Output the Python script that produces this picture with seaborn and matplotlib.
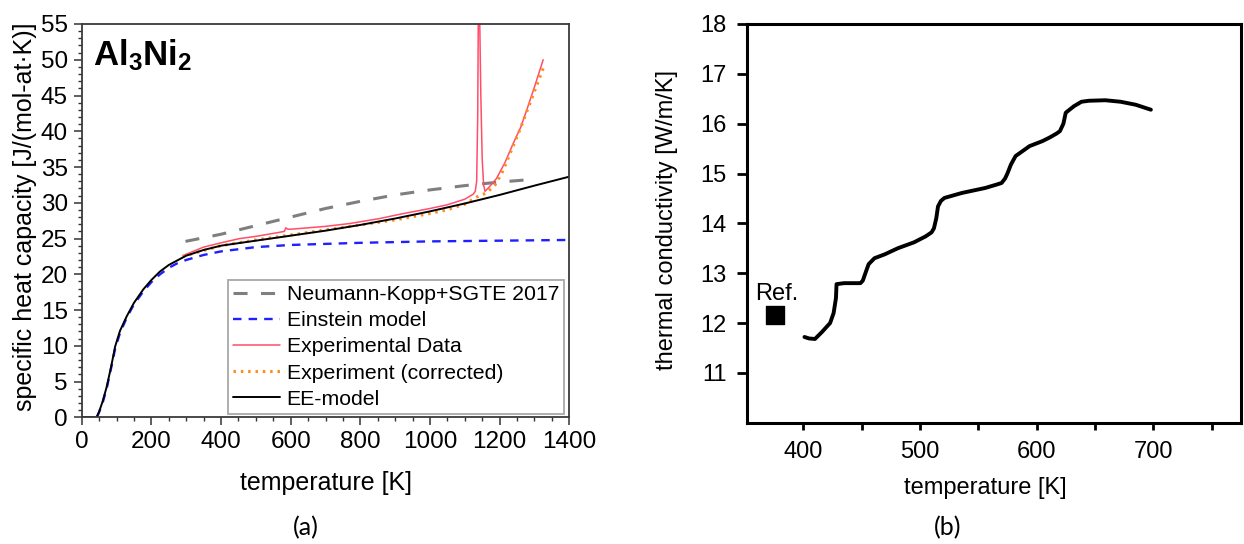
import numpy as np
import pandas as pd
import matplotlib
matplotlib.use("Agg")
import matplotlib.pyplot as plt
from matplotlib.ticker import MultipleLocator
import seaborn as sns

# ---- (a) specific heat capacity of Al3Ni2 ----
T_ee = [0, 43, 50, 60, 72, 85, 96, 110, 129, 150, 177, 200, 225, 250, 273, 300,
        350, 400, 500, 600, 700, 800, 900, 1000, 1100, 1200, 1300, 1400]
cp_ee = [0, 0, 0.8, 2.2, 4.3, 7.2, 9.9, 12.1, 14.1, 16.0, 17.9, 19.2, 20.4, 21.3, 21.9, 22.6,
         23.4, 24.0, 24.7, 25.4, 26.1, 26.9, 27.8, 28.8, 29.9, 31.1, 32.4, 33.65]

T_ein = [0, 43, 50, 60, 72, 85, 96, 110, 129, 150, 177, 200, 225, 250, 273, 300,
         350, 400, 500, 600, 800, 1000, 1200, 1400]
cp_ein = [0, 0, 0.7, 2.0, 4.1, 7.0, 9.6, 11.8, 13.9, 15.8, 17.6, 18.9, 20.0, 20.9, 21.5, 22.0,
          22.7, 23.2, 23.8, 24.1, 24.4, 24.6, 24.7, 24.8]

T_nk = [298, 400, 500, 600, 700, 800, 900, 1000, 1100, 1200, 1290]
cp_nk = [24.6, 25.6, 26.8, 28.0, 29.2, 30.2, 31.1, 31.8, 32.4, 32.9, 33.25]

T_exp = [290, 350, 400, 454, 500, 560, 582, 586, 592, 600, 700, 770, 856, 914, 1000, 1048,
         1100, 1124, 1130, 1134, 1137, 1139, 1142, 1146, 1150, 1154, 1158, 1170, 1191, 1215,
         1239, 1260, 1278, 1300, 1325]
cp_exp = [22.6, 23.8, 24.4, 25.0, 25.3, 25.8, 26.0, 26.5, 26.3, 26.3, 26.7, 27.1, 27.8, 28.4, 29.2, 29.7,
          30.5, 31.2, 31.6, 33.0, 42.0, 58.0, 58.0, 45.0, 36.0, 32.5, 31.6, 32.2, 33.4, 35.6,
          38.3, 40.5, 43.0, 46.2, 50.0]

T_cor = [290, 400, 500, 600, 700, 800, 900, 1000, 1048, 1100, 1134, 1163, 1187, 1206,
         1230, 1258, 1287, 1325]
cp_cor = [22.5, 24.0, 24.8, 25.5, 26.2, 26.9, 27.6, 28.5, 29.0, 29.8, 30.8, 31.4, 32.5, 34.1,
          36.9, 40.2, 43.9, 48.8]

labels_a = ["Neumann-Kopp+SGTE 2017", "Einstein model", "Experimental Data",
            "Experiment (corrected)", "EE-model"]

# ---- (b) thermal conductivity ----
T_k = [401, 405, 410, 416, 423, 426, 428, 428.5, 435, 449, 451, 454, 456, 461, 470, 481,
       495, 505, 510, 512, 514, 515.5, 518, 521, 536, 556, 566, 570, 573, 575, 578, 582,
       594, 605, 611, 617, 620, 623, 625, 632, 638.5, 645, 659, 672, 685, 698]
k_val = [11.72, 11.69, 11.68, 11.82, 12.00, 12.20, 12.50, 12.78, 12.80, 12.80, 12.85, 13.05,
         13.18, 13.30, 13.38, 13.50, 13.62, 13.74, 13.82, 13.90, 14.10, 14.34, 14.45, 14.51,
         14.61, 14.71, 14.78, 14.81, 14.90, 15.00, 15.18, 15.35, 15.55, 15.65, 15.72, 15.80,
         15.85, 16.00, 16.22, 16.35, 16.44, 16.46, 16.47, 16.44, 16.38, 16.28]
T_ref = [376]
k_ref = [12.16]

sns.set_theme(style="white")
plt.rcParams["font.family"] = ["Liberation Sans", "DejaVu Sans"]
plt.rcParams["mathtext.fontset"] = "custom"
plt.rcParams["mathtext.bf"] = "Liberation Sans:bold"
plt.rcParams["mathtext.rm"] = "Liberation Sans"
for key in ["text.color", "axes.labelcolor", "xtick.color", "ytick.color"]:
    plt.rcParams[key] = "black"

W, H = 1244, 544
fig = plt.figure(figsize=(W / 100, H / 100), dpi=100)
fig.patch.set_facecolor("white")


def px_axes(x0, x1, ytop, ybot):
    return fig.add_axes([x0 / W, 1 - ybot / H, (x1 - x0) / W, (ybot - ytop) / H])


axA = px_axes(81.7, 569.3, 24, 417.3)
axB = px_axes(747.3, 1240.7, 24, 422.7)

FS_TICK = 17.5
FS_LAB = 18
FS_LEG = 15.3
FS_B = 17

# panel (a)
sns.lineplot(x=T_nk, y=cp_nk, ax=axA, color="#7f7f7f", lw=2.2, label=labels_a[0],
             estimator=None, sort=False)
axA.lines[-1].set_dashes([4.6, 4.4])
sns.lineplot(x=T_ein, y=cp_ein, ax=axA, color="#1f1fff", lw=1.7, label=labels_a[1],
             estimator=None, sort=False)
axA.lines[-1].set_dashes([3.6, 3.0])
sns.lineplot(x=T_exp, y=cp_exp, ax=axA, color="#ff4d6a", lw=1.1, label=labels_a[2],
             estimator=None, sort=False)
sns.lineplot(x=T_cor, y=cp_cor, ax=axA, color="#ff8c1a", lw=2.2, label=labels_a[3],
             estimator=None, sort=False)
axA.lines[-1].set_dashes([0.8, 1.6])
sns.lineplot(x=T_ee, y=cp_ee, ax=axA, color="black", lw=1.4, label=labels_a[4],
             estimator=None, sort=False)

axA.set_xlim(0, 1400)
axA.set_ylim(0, 55)
axA.xaxis.set_major_locator(MultipleLocator(200))
axA.xaxis.set_minor_locator(MultipleLocator(50))
axA.yaxis.set_major_locator(MultipleLocator(5))
axA.yaxis.set_minor_locator(MultipleLocator(1))
axA.tick_params(axis="both", which="major", direction="out", length=6, width=1.1,
                color="#333333", labelsize=FS_TICK, pad=4, bottom=True, left=True)
axA.tick_params(axis="both", which="minor", direction="out", length=3.2, width=1.0,
                color="#333333", bottom=True, left=True)
for s in axA.spines.values():
    s.set_color("#3a3a3a")
    s.set_linewidth(1.3)
axA.set_xlabel("temperature [K]", fontsize=FS_LAB, va="center")
axA.set_ylabel("specific heat capacity [J/(mol-at·K)]", fontsize=FS_LAB, va="center")
axA.xaxis.set_label_coords(0.501, -0.167)
axA.yaxis.set_label_coords(-0.116, 0.509)
axA.text(0.023, 0.965, r"$\mathbf{Al_3Ni_2}$", transform=axA.transAxes, fontsize=25,
         ha="left", va="top")
leg = axA.legend(loc="lower right", bbox_to_anchor=(0.99, 0.008), borderaxespad=0,
                 fontsize=FS_LEG, frameon=True, fancybox=False, handlelength=2.2,
                 handletextpad=0.3, labelspacing=0.34, borderpad=0.25)
leg.get_frame().set_edgecolor("#9a9a9a")
leg.get_frame().set_linewidth(1.4)

# panel (b)
sns.lineplot(x=T_k, y=k_val, ax=axB, color="black", lw=2.8, estimator=None, sort=False)
sns.scatterplot(x=T_ref, y=k_ref, ax=axB, color="black", marker="s", s=150,
                edgecolor="black")
axB.text(T_ref[0] + 1, 12.58, "Ref.", fontsize=FS_B, ha="center", va="center")
axB.set_xlim(352, 775)
axB.set_ylim(10, 18)
axB.xaxis.set_major_locator(MultipleLocator(100))
axB.xaxis.set_minor_locator(MultipleLocator(50))
axB.set_yticks([11, 12, 13, 14, 15, 16, 17, 18])
axB.tick_params(axis="x", which="both", direction="out", length=5, width=2, color="black",
                labelsize=FS_B, pad=8, bottom=True)
axB.tick_params(axis="y", which="major", direction="out", length=7, width=2, color="black",
                labelsize=FS_B, pad=8, left=True)
for s in axB.spines.values():
    s.set_color("black")
    s.set_linewidth(2.2)
axB.set_xlabel("temperature [K]", fontsize=FS_B, va="center")
axB.set_ylabel("thermal conductivity [W/m/K]", fontsize=FS_B, va="center")
axB.xaxis.set_label_coords(0.483, -0.164)
axB.yaxis.set_label_coords(-0.163, 0.508)

fig.text(306 / W, 1 - 528 / H, "(a)", fontsize=18, ha="center", va="center",
         family=["Lato", "DejaVu Sans"])
fig.text(948 / W, 1 - 528 / H, "(b)", fontsize=18, ha="center", va="center",
         family=["Lato", "DejaVu Sans"])

fig.savefig("out.png", dpi=100, facecolor="white")
